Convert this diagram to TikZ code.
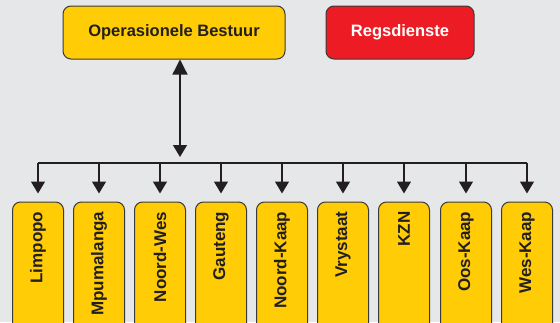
\documentclass[tikz,border=0pt]{standalone}
\usepackage{fontspec}
\setmainfont{Liberation Sans}
\usetikzlibrary{arrows.meta}
\definecolor{bg}{HTML}{E6E7E8}
\definecolor{boxy}{HTML}{FFCC05}
\definecolor{boxr}{HTML}{ED1C24}
\definecolor{edge}{HTML}{3A3A3A}
\definecolor{ink}{HTML}{231F20}
\tikzset{
  topbox/.style={draw=edge, line width=1pt, rounded corners=8pt, minimum height=53pt, inner sep=0pt, font=\fontsize{16.5}{18}\selectfont\bfseries, text=ink},
  provbox/.style={draw=edge, line width=1pt, fill=boxy, rounded corners=8pt, minimum width=51pt, minimum height=140pt, inner sep=0pt},
  provlabel/.style={rotate=90, anchor=east, inner sep=0pt, font=\fontsize{17}{19}\selectfont\bfseries, text=ink},
  conn/.style={draw=ink, line width=1.3pt},
  tipsmall/.style={-{Triangle[length=12pt,width=14pt]}},
}
\begin{document}
\begin{tikzpicture}[x=1pt,y=-1pt]
\useasboundingbox (0,0) rectangle (560,322);
\fill[bg] (0,0) rectangle (560,322);
\clip (0,0) rectangle (560,322);
\node[topbox, fill=boxy, minimum width=222pt] (ob) at (174,32.5) {Operasionele Bestuur};
\node[topbox, fill=boxr, minimum width=148pt, text=white] (rd) at (400,32.5) {Regsdienste};
\coordinate (hub) at (180,163);
\foreach \n/\x/\t in {p1/38/Limpopo, p2/99/Mpumalanga, p3/160/Noord-Wes, p4/221/Gauteng, p5/282/Noord-Kaap, p6/343/Vrystaat, p7/404/KZN, p8/466/Oos-Kaap, p9/527/Wes-Kaap}{
  \node[provbox] (\n) at (\x,272) {};
  \node[provlabel] (\n t) at ([yshift=-10pt]\n.north) {\t};
  \draw[conn, tipsmall, shorten >=8pt] (\n.north |- hub) -- (\n.north);
}
\draw[conn] (p1.north |- hub) -- (p9.north |- hub);
\draw[conn, {Triangle[length=15pt,width=15pt]}-{Triangle[length=12pt,width=14pt]}, shorten >=6pt] (ob.south -| hub) -- (hub);
\end{tikzpicture}
\end{document}
